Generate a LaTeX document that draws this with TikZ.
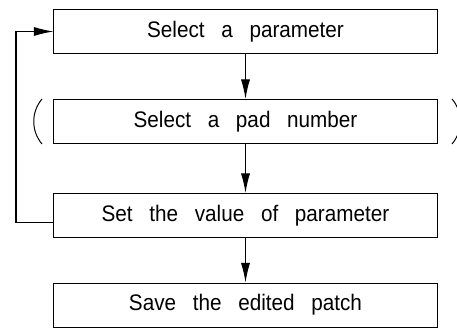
\documentclass[tikz,border=0pt]{standalone}
\usepackage{fontspec}
\setmainfont{Liberation Sans}[FakeStretch=0.92,WordSpace=2.9]
\usetikzlibrary{arrows.meta, positioning}
\tikzset{
    box/.style={rectangle, minimum width=9.575cm, minimum height=1.1cm, text centered, draw, line width=0.7pt, font=\fontsize{16}{18}\selectfont},
    flow/.style={-{Latex[length=14pt,width=6.5pt]}, line width=0.8pt},
    paren/.style={line width=0.7pt}
}
\begin{document}
\begin{tikzpicture}[x=0.025cm, y=-0.025cm]
    \useasboundingbox (0,0) rectangle (457,329);
    % Steps
    \node[box] (param) at (245.5,31.5) {Select a parameter};
    \node[box] (pad) at (245.5,121.5) {Select a pad number};
    \node[box] (value) at (245.5,215.5) {Set the value of parameter};
    \node[box] (save) at (245.5,305) {Save the edited patch};

    % Flow down
    \draw[flow] (param) -- (pad);
    \draw[flow] (pad) -- (value);
    \draw[flow] (value) -- (save);

    % Loop back to the first step
    \coordinate (loop) at (16,120);
    \draw[flow] ([yshift=-0.18cm]value.west) -| (loop) |- (param.west);

    % Brackets round the optional step
    \draw[paren] (42,99) .. controls (31,112) and (31,131) .. (42,144);
    \draw[paren] (452,99) .. controls (463,112) and (463,131) .. (452,144);
\end{tikzpicture}
\end{document}
